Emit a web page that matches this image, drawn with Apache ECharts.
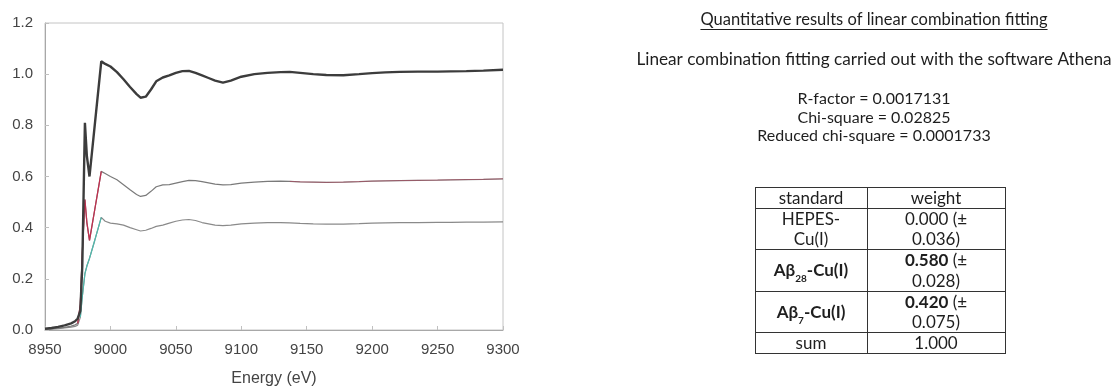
<!DOCTYPE html>
<html>
<head>
<meta charset="utf-8">
<script src="https://cdn.jsdelivr.net/npm/echarts@6/dist/echarts.min.js"></script>
<style>
html,body{margin:0;padding:0;background:#fff;}
#chart{width:1120px;height:392px;}
</style>
</head>
<body>
<div id="chart"></div>
<script>
// ---- data ----
const energy = [8950, 8955, 8960, 8965, 8970, 8973, 8975, 8977, 8978.5, 8980.5, 8982, 8984, 8988, 8993, 8996, 9000, 9005, 9010, 9015, 9020, 9023, 9027, 9031, 9035, 9040, 9045, 9050, 9055, 9060, 9065, 9070, 9075, 9080, 9086, 9092, 9100, 9110, 9120, 9130, 9137, 9145, 9155, 9165, 9178, 9190, 9200, 9210, 9221, 9235, 9250, 9260, 9272, 9285, 9300];
const sampleData = [0.005, 0.008, 0.012, 0.018, 0.026, 0.034, 0.045, 0.075, 0.25, 0.81, 0.68, 0.60, 0.80, 1.05, 1.04, 1.03, 1.008, 0.98, 0.95, 0.922, 0.908, 0.912, 0.94, 0.972, 0.987, 0.995, 1.005, 1.012, 1.013, 1.005, 0.995, 0.985, 0.975, 0.967, 0.975, 0.99, 1.0, 1.005, 1.008, 1.009, 1.005, 1.0, 0.997, 0.996, 1.0, 1.004, 1.007, 1.009, 1.01, 1.01, 1.011, 1.012, 1.014, 1.017];
const ab28Component = [0.003, 0.005, 0.007, 0.01, 0.015, 0.02, 0.026, 0.10, 0.30, 0.51, 0.42, 0.35, 0.47, 0.62, 0.612, 0.60, 0.587, 0.568, 0.548, 0.53, 0.522, 0.526, 0.542, 0.56, 0.567, 0.568, 0.574, 0.58, 0.585, 0.584, 0.58, 0.575, 0.57, 0.567, 0.568, 0.574, 0.578, 0.581, 0.582, 0.581, 0.579, 0.578, 0.577, 0.578, 0.58, 0.582, 0.583, 0.584, 0.585, 0.586, 0.587, 0.588, 0.589, 0.591];
const ab7Component = [0.002, 0.003, 0.005, 0.008, 0.011, 0.014, 0.019, 0.05, 0.13, 0.22, 0.25, 0.28, 0.35, 0.44, 0.425, 0.418, 0.415, 0.41, 0.40, 0.392, 0.387, 0.39, 0.397, 0.405, 0.41, 0.418, 0.425, 0.43, 0.432, 0.428, 0.42, 0.415, 0.41, 0.408, 0.41, 0.415, 0.418, 0.42, 0.42, 0.419, 0.417, 0.415, 0.414, 0.414, 0.416, 0.418, 0.419, 0.42, 0.42, 0.421, 0.421, 0.422, 0.422, 0.423];

const xAxisName = 'Energy (eV)';
const panelTitle = 'Quantitative results of linear combination fitting';
const panelSubtitle = 'Linear combination fitting carried out with the software Athena';
const fitStats = ['R-factor = 0.0017131', 'Chi-square = 0.02825', 'Reduced chi-square = 0.0001733'];
const tableHeader = ['standard', 'weight'];
const standardNames = ['HEPES-\nCu(I)', 'Aβ|28|-Cu(I)', 'Aβ|7|-Cu(I)'];
const boldRows = [false, true, true];
const weights = ['0.000', '0.580', '0.420'];
const weightErrors = ['0.036', '0.028', '0.075'];
const sumLabel = 'sum';
const weightSum = '1.000';

// ---- layout ----
const FONT = 'Lato, "Open Sans", sans-serif';
const AXFONT = '"Liberation Sans", Arial, sans-serif';
const TXT = '#1e1e1e';
const gridL = 45, gridR = 503, gridT = 23, gridB = 339;
const panelCx = 874;
const tblX = [755, 867, 1005];
const tblY = [187, 208, 249, 291, 332, 353];

function pairs(ys, lo, hi) {
  const out = [];
  energy.forEach((e, i) => { if (e >= lo && e <= hi) out.push([e, ys[i]]); });
  return out;
}

const chart = echarts.init(document.getElementById('chart'), null, {renderer: 'canvas'});

const graphics = [];
function addText(x, y, text, size) {
  graphics.push({type: 'text', x: x, y: y, silent: true,
    style: {fill: TXT, fontFamily: FONT, fontSize: size, align: 'center', verticalAlign: 'middle', text: text}});
}
// title with underline
addText(panelCx, 20, panelTitle, 16.5);
const mctx = document.createElement('canvas').getContext('2d');
mctx.font = '16.5px ' + FONT;
const tw = mctx.measureText(panelTitle).width;
graphics.push({type: 'line', silent: true, shape: {x1: panelCx - tw / 2, y1: 29.5, x2: panelCx + tw / 2, y2: 29.5}, style: {stroke: TXT, lineWidth: 1}});
addText(panelCx, 59, panelSubtitle, 17.2);
fitStats.forEach((s, i) => addText(panelCx, 99 + i * 18.5, s, 16));

// table
const LH = 20.5;
const rich = {
  n: {fontFamily: FONT, fontSize: 17, color: TXT, lineHeight: LH},
  b: {fontFamily: FONT, fontSize: 17, fontWeight: 'bold', color: TXT, lineHeight: LH},
  s: {fontFamily: FONT, fontSize: 10, fontWeight: 'bold', color: TXT, lineHeight: LH, verticalAlign: 'bottom', padding: [0, 0, -3, 0]}
};
function cell(col, row, text) {
  const cx = (tblX[col] + tblX[col + 1]) / 2;
  const cy = (tblY[row] + tblY[row + 1]) / 2 + 1;
  graphics.push({type: 'text', x: cx, y: cy, silent: true,
    style: {text: text, rich: rich, align: 'center', verticalAlign: 'middle', fill: TXT, fontFamily: FONT, fontSize: 17, lineHeight: LH}});
}
cell(0, 0, '{n|' + tableHeader[0] + '}');
cell(1, 0, '{n|' + tableHeader[1] + '}');
standardNames.forEach((nm, i) => {
  let t;
  if (boldRows[i]) {
    const p = nm.split('|');
    t = '{b|' + p[0] + '}{s|' + p[1] + '}{b|' + p[2] + '}';
  } else {
    t = nm.split('\n').map(l => '{n|' + l + '}').join('\n');
  }
  cell(0, i + 1, t);
  const w = boldRows[i] ? '{b|' + weights[i] + '}{n| (±}' : '{n|' + weights[i] + ' (±}';
  cell(1, i + 1, w + '\n{n|' + weightErrors[i] + ')}');
});
cell(0, 4, '{n|' + sumLabel + '}');
cell(1, 4, '{n|' + weightSum + '}');
// table lines
const lineStyle = {stroke: '#333', lineWidth: 1};
tblY.forEach(y => graphics.push({type: 'line', silent: true, shape: {x1: tblX[0], y1: y + 0.5, x2: tblX[2] + 1, y2: y + 0.5}, style: lineStyle}));
tblX.forEach(x => graphics.push({type: 'line', silent: true, shape: {x1: x + 0.5, y1: tblY[0], x2: x + 0.5, y2: tblY[5] + 1}, style: lineStyle}));

function line(data, color, width, z, opacity) {
  return {type: 'line', data: data, showSymbol: false, silent: true,
    lineStyle: {color: color, width: width, opacity: opacity == null ? 1 : opacity}, z: z};
}

chart.setOption({
  animation: false,
  backgroundColor: '#fff',
  grid: {left: gridL, right: 1120 - gridR, top: gridT, bottom: 392 - gridB, show: true, borderColor: '#c4c4c4', borderWidth: 1, containLabel: false},
  xAxis: {
    type: 'value', min: 8950, max: 9300, interval: 50,
    name: xAxisName, nameLocation: 'middle', nameGap: 41,
    nameTextStyle: {fontFamily: AXFONT, fontSize: 16, color: '#444'},
    axisLine: {lineStyle: {color: '#a8a8a8'}},
    axisTick: {show: true, inside: true, length: 4, lineStyle: {color: '#c0c0c0'}},
    axisLabel: {fontFamily: AXFONT, fontSize: 15, color: '#444', margin: 12, formatter: v => String(v)},
    splitLine: {show: false}
  },
  yAxis: {
    type: 'value', min: 0, max: 1.2, interval: 0.2,
    axisLine: {show: true, lineStyle: {color: '#a8a8a8'}},
    axisTick: {show: true, inside: true, length: 4, lineStyle: {color: '#c0c0c0'}},
    axisLabel: {fontFamily: AXFONT, fontSize: 15, color: '#444', margin: 12, formatter: v => v.toFixed(1)},
    splitLine: {show: false}
  },
  series: [
    line(pairs(ab7Component, 8950, 9300), '#8a8a8a', 1.2, 2),
    line(pairs(ab7Component, 8977, 8993), '#4fb9ad', 1.2, 3),
    line(pairs(ab28Component, 8950, 9300), '#7a7a7a', 1.2, 4),
    line(pairs(ab28Component, 8975, 8993), '#c0304f', 1.3, 5),
    line(pairs(ab28Component, 9137, 9300), '#c0304f', 1.0, 5, 0.45),
    line(pairs(sampleData, 8950, 9300), '#3c3c3c', 2.4, 6)
  ],
  graphic: graphics
});
</script>
</body>
</html>
